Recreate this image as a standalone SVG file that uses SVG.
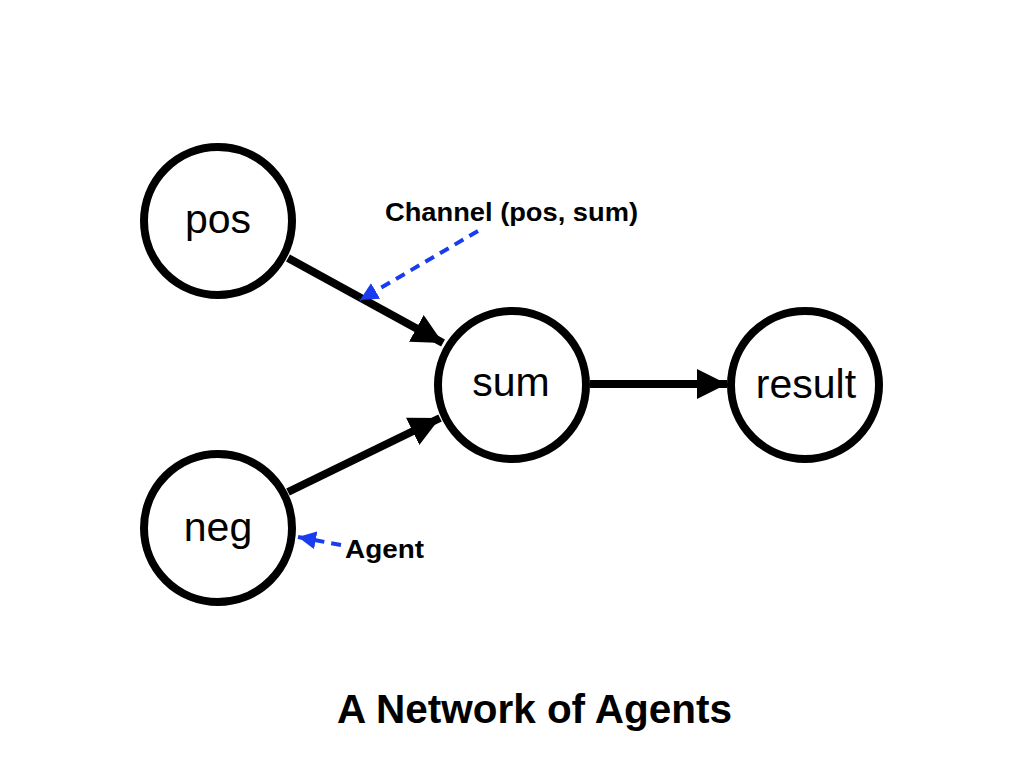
<svg xmlns="http://www.w3.org/2000/svg" width="1024" height="768" viewBox="0 0 1024 768">
<defs>
<style>
.node{fill:#fff;stroke:#000;stroke-width:8}
.lbl{font-family:"Liberation Sans",Arial,sans-serif;font-size:41px;text-anchor:middle;fill:#000}
.edge{stroke:#000;stroke-width:8;fill:none}
.note{stroke:#1a3cf0;stroke-width:4;stroke-dasharray:10,7;fill:none}
.ann{font-family:"Liberation Sans",Arial,sans-serif;font-size:25px;font-weight:bold;fill:#000}
</style>
<marker id="ah" viewBox="0 0 10 10" refX="10" refY="5" markerWidth="3.8" markerHeight="3.8" orient="auto" markerUnits="strokeWidth">
<path d="M0,0 L10,5 L0,10 z" fill="#000"/>
</marker>
<marker id="bh" viewBox="0 0 10 10" refX="10" refY="5" markerWidth="4.5" markerHeight="4.5" orient="auto" markerUnits="strokeWidth">
<path d="M0,0 L10,5 L0,10 z" fill="#1a3cf0"/>
</marker>
</defs>
<rect width="1024" height="768" fill="#fff"/>
<g id="connectors">
<line class="edge" x1="288" y1="258" x2="443" y2="343" marker-end="url(#ah)"/>
<line class="edge" x1="288" y1="492" x2="440" y2="418" marker-end="url(#ah)"/>
<line class="edge" x1="590" y1="384" x2="727" y2="384" marker-end="url(#ah)"/>
<line class="note" x1="478" y1="231" x2="360" y2="300" marker-end="url(#bh)"/>
<line class="note" x1="341" y1="545" x2="298" y2="537" marker-end="url(#bh)"/>
</g>
<g id="pos"><circle class="node" cx="218" cy="221" r="74"/><text class="lbl" x="218" y="233">pos</text></g>
<g id="neg"><circle class="node" cx="218" cy="528" r="74"/><text class="lbl" x="218" y="541">neg</text></g>
<g id="sum"><circle class="node" cx="512" cy="385" r="74"/><text class="lbl" x="511" y="396">sum</text></g>
<g id="result"><circle class="node" cx="805" cy="385" r="74"/><text class="lbl" x="806" y="398">result</text></g>
<g id="channel-label"><text class="ann" x="385" y="221" textLength="253" lengthAdjust="spacingAndGlyphs">Channel (pos, sum)</text></g>
<g id="agent-label"><text class="ann" x="345" y="558" textLength="79" lengthAdjust="spacingAndGlyphs">Agent</text></g>
<g id="title"><text x="337" y="723" font-family="'Liberation Sans',Arial,sans-serif" font-size="41" font-weight="bold" textLength="395" lengthAdjust="spacingAndGlyphs">A Network of Agents</text></g>
</svg>
